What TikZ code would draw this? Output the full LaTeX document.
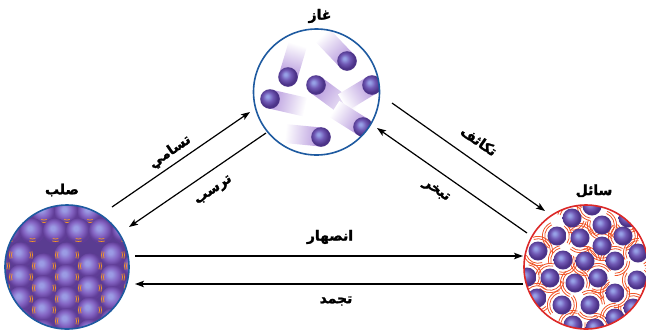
\documentclass[tikz,border=0pt]{standalone}
\usepackage{fontspec}
\usetikzlibrary{arrows.meta,calc}
\newfontfamily\arabicfont[Script=Arabic, BoldFeatures={FakeBold=1.5}]{DejaVu Sans}
\TeXXeTstate=1
\definecolor{gasblue}{RGB}{30,90,160}
\definecolor{liqred}{RGB}{220,40,40}
\definecolor{molhl}{RGB}{150,160,230}
\definecolor{molec}{RGB}{112,88,180}
\definecolor{moldk}{RGB}{75,50,135}
\definecolor{solhl}{RGB}{155,155,228}
\definecolor{solmid}{RGB}{132,100,195}
\definecolor{soldk}{RGB}{95,60,150}
\definecolor{trailc}{RGB}{180,150,220}
\definecolor{solidbg}{RGB}{90,60,145}
\definecolor{orangearc}{RGB}{250,155,30}
\definecolor{redarc}{RGB}{240,85,40}
\pgfdeclareradialshading{molball}{\pgfpoint{-7bp}{7bp}}{color(0bp)=(molhl); color(3bp)=(molhl); color(13bp)=(molec); color(23bp)=(moldk); color(25bp)=(moldk); color(50bp)=(moldk)}
\pgfdeclareradialshading{solball}{\pgfpoint{-6bp}{6bp}}{color(0bp)=(solhl); color(4bp)=(solhl); color(14bp)=(solmid); color(23bp)=(soldk); color(25bp)=(soldk); color(50bp)=(soldk)}
\tikzset{
  arr/.style={line width=1.2bp, -{Stealth[length=9bp,width=6.5bp,inset=2bp]}},
  lbl/.style={font=\arabicfont\bfseries\fontsize{14}{16}\selectfont, inner sep=0pt},
  phase/.style={circle, line width=1.6bp, minimum size=#1, inner sep=0pt},
  oarc/.style={orangearc, line width=0.7bp},
  rarc/.style={redarc, line width=0.8bp},
  mball/.style={shading=molball},
  sball/.style={shading=solball},
}
\begin{document}
\begin{tikzpicture}[x=1bp,y=-1bp]
\useasboundingbox (0,0) rectangle (646,331);

% ---------- gas interior ----------
\begin{scope}
  \clip (316.5,92) circle (63);
  \foreach \x/\y/\a/\l in {347/61/133.7/36, 288/77/73.3/34, 316/85/-36.3/46, 372/85/211/34, 270/99/-13/36, 363/127/147.8/34, 321/137/174.5/36}{
    \begin{scope}[transform canvas={shift={(\x,\y)},rotate=\a}]
      \shade[left color=trailc, right color=white] (0,-9.5) rectangle (\l,9.5);
    \end{scope}
  }
  \foreach \x/\y in {347/61, 288/77, 316/85, 372/85, 270/99, 363/127, 321/137}{
    \shade[mball] (\x,\y) circle (9.8);
  }
\end{scope}

% ---------- solid interior ----------
\begin{scope}
  \clip (67,267) circle (62);
  \fill[solidbg] (67,267) circle (62);
  \foreach \y/\o in {212/0, 231/11.5}{
    \foreach \k in {-4,...,3}{
      \pgfmathsetmacro\cx{67+23*\k+\o}
      \shade[sball] (\cx,\y) circle (12.8);
      \draw[oarc] (\cx,\y) ++(70:8) arc[start angle=70,end angle=110,radius=8];
      \draw[oarc] (\cx,\y) ++(72:10.5) arc[start angle=72,end angle=108,radius=10.5];
    }
  }
  \foreach \k in {-3,3,-2,2,-1,1,0}{
    \pgfmathsetmacro\cx{67+23*\k}
    \pgfmathsetmacro\yo{mod(abs(\k),2)==1 ? 266 : 255}
    \foreach \j in {0,...,3}{
      \pgfmathsetmacro\cy{\yo+22*\j}
      \shade[sball] (\cx,\cy) circle (12.8);
      \draw[oarc] (\cx,\cy) ++(160:9.5) arc[start angle=160,end angle=200,radius=9.5];
      \draw[oarc] (\cx,\cy) ++(162:11.5) arc[start angle=162,end angle=198,radius=11.5];
      \draw[oarc] (\cx,\cy) ++(-20:9.5) arc[start angle=-20,end angle=20,radius=9.5];
      \draw[oarc] (\cx,\cy) ++(-18:11.5) arc[start angle=-18,end angle=18,radius=11.5];
    }
  }
\end{scope}

% ---------- liquid interior ----------
\begin{scope}
  \clip (586,267) circle (62);
  \fill[white] (586,267) circle (62);
  \foreach \x/\y [count=\i] in {592/206, 572/218, 602/225, 628/218, 557/236, 580/238, 623/236, 602/246, 638/253, 538/251, 563/260, 585/261, 615/261, 527/277, 550/278, 575/283, 598/278, 637/280, 537/298, 562/305, 590/305, 615/293, 633/308, 573/325, 595/328, 615/318}{
    \pgfmathsetmacro\a{mod(\i*97,360)}
    \draw[rarc] (\x,\y) ++(\a:12.3) arc[start angle=\a, delta angle=120, radius=12.3];
    \draw[rarc] (\x,\y) ++(\a:14.6) arc[start angle=\a, delta angle=120, radius=14.6];
    \draw[rarc] (\x,\y) ++(\a+180:12.3) arc[start angle=\a+180, delta angle=90, radius=12.3];
    \draw[rarc] (\x,\y) ++(\a+180:14.6) arc[start angle=\a+180, delta angle=90, radius=14.6];
  }
  \foreach \x/\y in {592/206, 572/218, 602/225, 628/218, 557/236, 580/238, 623/236, 602/246, 638/253, 538/251, 563/260, 585/261, 615/261, 527/277, 550/278, 575/283, 598/278, 637/280, 537/298, 562/305, 590/305, 615/293, 633/308, 573/325, 595/328, 615/318}{
    \shade[mball] (\x,\y) circle (9.5);
  }
\end{scope}

% ---------- phase circles ----------
\node[phase=126bp, draw=gasblue] (gas) at (316.5,92) {};
\node[phase=124bp, draw=gasblue] (solid) at (67,267) {};
\node[phase=124bp, draw=liqred] (liquid) at (586,267) {};

% ---------- labels ----------
\node[lbl] (tgas) at (320,16) {\beginR غاز\endR};
\node[lbl] (tsolid) at (62,190) {\beginR صلب\endR};
\node[lbl] (tliq) at (594,191) {\beginR سائل\endR};
\node[lbl, rotate=34.5] (tsub) at (170,152) {\beginR تسامي\endR};
\node[lbl, rotate=34.5] (tdep) at (214,191) {\beginR ترسب\endR};
\node[lbl, rotate=-35] (tcond) at (479,141) {\beginR تكاثف\endR};
\node[lbl, rotate=-35] (tevap) at (436,191) {\beginR تبخر\endR};
\node[lbl] (tmelt) at (330,237) {\beginR انصهار\endR};
\node[lbl] (tfrz) at (336,301) {\beginR تجمد\endR};

% ---------- arrows ----------
\coordinate (subA) at (112,207);  \coordinate (subB) at (250,112);
\coordinate (depA) at (266,133);  \coordinate (depB) at (129,227);
\coordinate (conA) at (392,103);  \coordinate (conB) at (545,211);
\coordinate (evaA) at (527,233);  \coordinate (evaB) at (377,128);
\coordinate (melA) at (135,256);  \coordinate (melB) at (523,256);
\coordinate (frzA) at (523,284);  \coordinate (frzB) at (135,284);
\draw[arr] (subA) -- (subB);
\draw[arr] (depA) -- (depB);
\draw[arr] (conA) -- (conB);
\draw[arr] (evaA) -- (evaB);
\draw[arr] (melA) -- (melB);
\draw[arr] (frzA) -- (frzB);
\end{tikzpicture}
\end{document}
